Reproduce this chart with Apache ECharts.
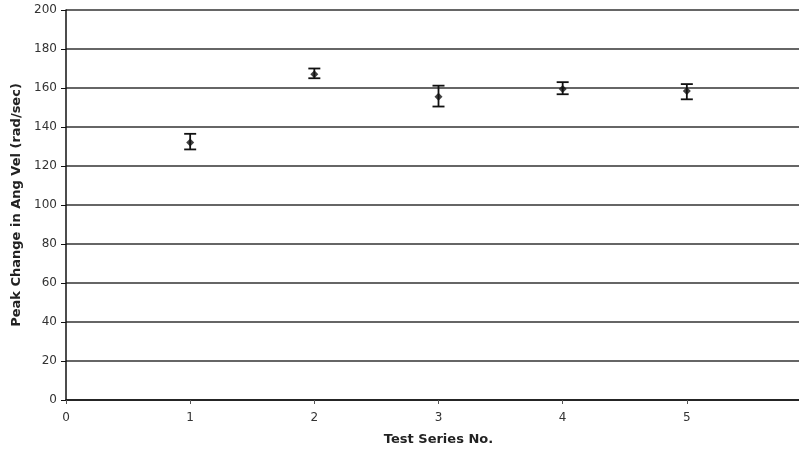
<!DOCTYPE html>
<html>
<head>
<meta charset="utf-8">
<script src="https://cdn.jsdelivr.net/npm/echarts@6/dist/echarts.min.js"></script>
<style>
  html, body { margin: 0; padding: 0; background: #fff; }
  #chart { width: 799px; height: 450px; }
</style>
</head>
<body>
<div id="chart"></div>
<script>
// Test series and measured peak change in angular velocity
const seriesNo = [1, 2, 3, 4, 5];
const peakMean = [132, 167, 155.5, 159.5, 158.5];
const errLow = [128.5, 165, 150.5, 156.8, 154.2];
const errHigh = [136.5, 170, 161.2, 163, 162];

const font = 'Verdana, "DejaVu Sans", sans-serif';

const chart = echarts.init(document.getElementById('chart'), null, { renderer: 'canvas' });

const points = seriesNo.map((x, i) => [x, peakMean[i]]);
const bars = seriesNo.map((x, i) => [x, errLow[i], errHigh[i]]);

chart.setOption({
  animation: false,
  backgroundColor: '#fff',
  grid: { left: 66, right: -12, top: 10, bottom: 50, outerBoundsMode: 'none', containLabel: false },
  xAxis: {
    type: 'value',
    min: 0,
    max: 6,
    interval: 1,
    name: 'Test Series No.',
    nameLocation: 'middle',
    nameGap: 33,
    nameTextStyle: { fontFamily: font, fontSize: 13, fontWeight: 'bold', color: '#222' },
    axisLine: { lineStyle: { color: '#111', width: 1.5 } },
    axisTick: { show: true, length: 4, lineStyle: { color: '#555' } },
    axisLabel: {
      fontFamily: font, fontSize: 12, color: '#333', margin: 12,
      formatter: v => (v <= 5 ? String(v) : '')
    },
    splitLine: { show: false }
  },
  yAxis: {
    type: 'value',
    min: 0,
    max: 200,
    interval: 20,
    name: 'Peak Change in Ang Vel (rad/sec)',
    nameLocation: 'middle',
    nameGap: 42,
    nameTextStyle: { fontFamily: font, fontSize: 13, fontWeight: 'bold', color: '#222' },
    axisLine: { show: true, lineStyle: { color: '#111', width: 1.5 } },
    axisTick: { show: true, length: 5, lineStyle: { color: '#111' } },
    axisLabel: { fontFamily: font, fontSize: 12, color: '#333', margin: 9 },
    splitLine: { show: true, lineStyle: { color: '#333', width: 1.5 } }
  },
  series: [
    {
      type: 'custom',
      data: bars,
      renderItem: (params, api) => {
        const x = api.value(0);
        const lo = api.coord([x, api.value(1)]);
        const hi = api.coord([x, api.value(2)]);
        const half = 6;
        const style = { stroke: '#111', lineWidth: 1.8 };
        return {
          type: 'group',
          children: [
            { type: 'line', shape: { x1: lo[0], y1: lo[1], x2: hi[0], y2: hi[1] }, style },
            { type: 'line', shape: { x1: hi[0] - half, y1: hi[1], x2: hi[0] + half, y2: hi[1] }, style },
            { type: 'line', shape: { x1: lo[0] - half, y1: lo[1], x2: lo[0] + half, y2: lo[1] }, style }
          ]
        };
      },
      z: 3
    },
    {
      type: 'scatter',
      data: points,
      symbol: 'diamond',
      symbolSize: 8,
      itemStyle: { color: '#111' },
      z: 4
    }
  ]
});
</script>
</body>
</html>
